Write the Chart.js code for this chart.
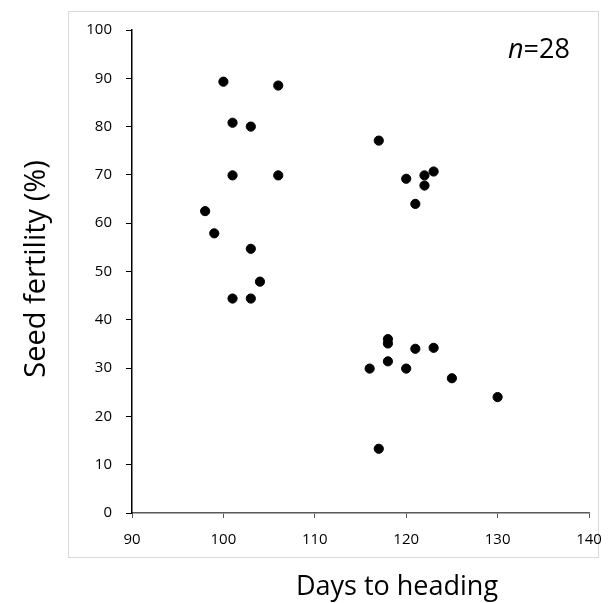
<!DOCTYPE html>
<html>
<head>
<meta charset="utf-8">
<style>
  html, body { margin: 0; padding: 0; background: #fff; }
  #wrap { width: 610px; height: 603px; position: relative; }
</style>
<script src="https://cdn.jsdelivr.net/npm/chart.js@4/dist/chart.umd.min.js"></script>
</head>
<body>
<div id="wrap"><canvas id="fertilityChart" width="610" height="603"></canvas></div>
<script>
// days to heading (x) and seed fertility % (y), one entry per line
var daysToHeading = [100, 106, 101, 103, 101, 106, 98, 99, 103, 104, 101, 103,
                     117, 120, 122, 123, 122, 121,
                     118, 118, 121, 123, 118, 116, 120, 125, 130, 117];
var seedFertility = [89.3, 88.5, 80.8, 80.0, 69.9, 69.9, 62.5, 57.9, 54.7, 47.9, 44.4, 44.4,
                     77.1, 69.2, 69.9, 70.7, 67.8, 64.0,
                     36.0, 35.1, 34.0, 34.2, 31.4, 29.9, 29.9, 27.9, 24.0, 13.3];
var xTicks = [90, 100, 110, 120, 130, 140];
var yTicks = [0, 10, 20, 30, 40, 50, 60, 70, 80, 90, 100];
var xTitle = 'Days to heading';
var yTitle = 'Seed fertility (%)';
var sampleSize = 28;

var points = daysToHeading.map(function (d, i) {
    return { x: d, y: seedFertility[i] };
});

var FONT = '"Open Sans", sans-serif';

// border box, axis titles and the n= note, drawn around the plot
var decorations = {
    id: 'decorations',
    beforeDraw: function (chart) {
        var ctx = chart.ctx;
        ctx.save();
        ctx.strokeStyle = '#d9d9d9';
        ctx.lineWidth = 1;
        ctx.strokeRect(68.5, 11.5, 530, 546);
        ctx.restore();
    },
    afterDraw: function (chart) {
        var ctx = chart.ctx;
        ctx.save();
        ctx.fillStyle = '#000';
        ctx.textAlign = 'center';
        ctx.textBaseline = 'alphabetic';
        ctx.font = '27px ' + FONT;
        ctx.fillText(xTitle, 397, 595);

        ctx.font = '29px ' + FONT;
        ctx.translate(45, 269);
        ctx.rotate(-Math.PI / 2);
        ctx.fillText(yTitle, 0, 0);
        ctx.restore();

        ctx.save();
        ctx.fillStyle = '#000';
        ctx.textBaseline = 'alphabetic';
        ctx.textAlign = 'left';
        ctx.font = 'italic 27px ' + FONT;
        var nx = 508;
        ctx.fillText('n', nx, 58);
        var w = ctx.measureText('n').width;
        ctx.font = '27px ' + FONT;
        ctx.fillText('=' + sampleSize, nx + w, 58);
        ctx.restore();
    }
};

var ctx = document.getElementById('fertilityChart').getContext('2d');
var chart = new Chart(ctx, {
    type: 'scatter',
    data: {
        datasets: [{
            label: 'Seed fertility',
            data: points,
            backgroundColor: '#000',
            borderColor: '#000',
            pointRadius: 4.6,
            pointHoverRadius: 4.6
        }]
    },
    options: {
        responsive: false,
        animation: false,
        layout: {
            padding: { left: 0, top: 30, right: 21, bottom: 0 }
        },
        plugins: {
            legend: { display: false },
            tooltip: { enabled: false }
        },
        scales: {
            x: {
                type: 'linear',
                min: 90,
                max: 140,
                afterFit: function (scale) {
                    scale.height = 90;
                    scale.paddingLeft = 0;
                    scale.paddingRight = 0;
                },
                afterBuildTicks: function (scale) {
                    scale.ticks = xTicks.map(function (v) { return { value: v }; });
                },
                border: { color: '#595959', width: 1.5 },
                grid: { drawOnChartArea: false, drawTicks: true, tickLength: 5, color: '#595959' },
                ticks: { color: '#000', font: { family: FONT, size: 15 }, padding: 13, maxRotation: 0 }
            },
            y: {
                type: 'linear',
                min: 0,
                max: 100,
                afterFit: function (scale) {
                    scale.width = 132;
                    scale.paddingTop = 0;
                    scale.paddingBottom = 0;
                },
                afterBuildTicks: function (scale) {
                    scale.ticks = yTicks.map(function (v) { return { value: v }; });
                },
                border: { color: '#000', width: 1.5 },
                grid: { drawOnChartArea: false, drawTicks: true, tickLength: 6, color: '#000' },
                ticks: { color: '#000', font: { family: FONT, size: 15 }, padding: 14 }
            }
        }
    },
    plugins: [decorations]
});
</script>
</body>
</html>
